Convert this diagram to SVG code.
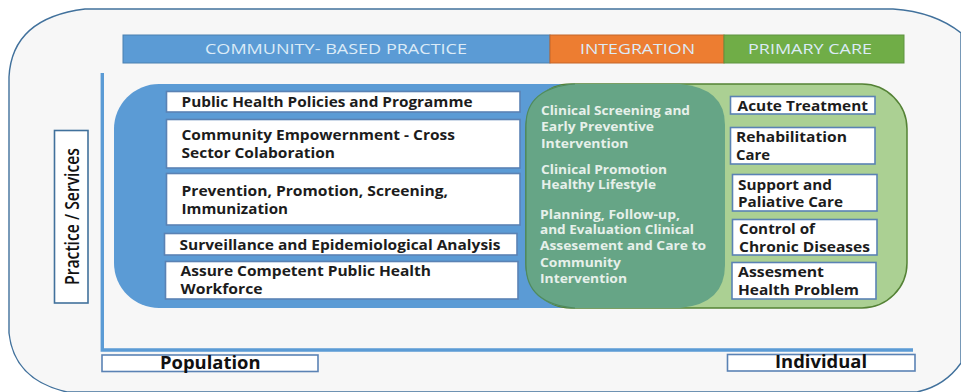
<svg xmlns="http://www.w3.org/2000/svg" width="961" height="392" viewBox="0 0 961 392">
<style>
text{font-family:"Open Sans","Liberation Sans",sans-serif;}
.b{fill:#fff;stroke:#5a82b4;stroke-width:1.6;}
.bb{fill:#fff;stroke:#41719c;stroke-width:1.6;}
.t{font-size:13.6px;font-weight:700;fill:#1c1c1c;}
.g{font-size:11.8px;font-weight:700;fill:#e6f0ea;}
.h{font-size:14.5px;fill:#dcebf7;}
.ax{font-size:17px;font-weight:700;fill:#111;}
</style>
<rect width="961" height="392" fill="#fff"/>
<g id="frame"><path d="M85 9H893Q935 12 961 33V363Q945 386 917 392H67Q14 380 9 333V77Q12 18 85 9Z" fill="#f7f7f7" stroke="#41719c" stroke-width="1.4"/></g>
<g id="header">
<g id="h-community"><rect x="123" y="35" width="427" height="28" fill="#5b9bd5" stroke="#4a80b0"/><text class="h" x="205" y="54" textLength="262" lengthAdjust="spacingAndGlyphs">COMMUNITY- BASED PRACTICE</text></g>
<g id="h-integration"><rect x="550" y="35" width="174" height="28" fill="#ed7d31" stroke="#c4662a"/><text class="h" x="580" y="54" textLength="115" lengthAdjust="spacingAndGlyphs">INTEGRATION</text></g>
<g id="h-primary"><rect x="724" y="35" width="180" height="28" fill="#70ad47" stroke="#5e9440"/><text class="h" x="748" y="54" textLength="124" lengthAdjust="spacingAndGlyphs">PRIMARY CARE</text></g>
</g>
<g id="connectors"><path d="M102.300 73V350H913" fill="none" stroke="#5b9bd5" stroke-width="3.400"/></g>
<g id="practice"><rect class="bb" x="54.500" y="130.500" width="33.500" height="172.500"/><text transform="translate(79 285) rotate(-90)" font-size="19.500" font-weight="600" fill="#111" textLength="137" lengthAdjust="spacingAndGlyphs">Practice / Services</text></g>
<g id="community-area"><rect x="114" y="84" width="500" height="224" rx="45" fill="#5b9bd5"/></g>
<g id="primary-area"><rect x="526" y="84" width="381" height="224" rx="45" fill="#abd093" stroke="#548235" stroke-width="1.500"/></g>
<g id="integration-area"><path d="M571 84H680Q725 88 725 125V265Q725 304 680 308H571Q526 304 526 265V125Q526 88 571 84Z" fill="#66a586"/><path d="M575 84Q526 88 526 125V265Q526 304 575 308" fill="none" stroke="#4f8a5f" stroke-width="1.200"/>
<g class="g"><text class="g" x="541" y="115" textLength="149" lengthAdjust="spacingAndGlyphs">Clinical Screening and</text><text class="g" x="541" y="131" textLength="113" lengthAdjust="spacingAndGlyphs">Early Preventive</text><text class="g" x="541" y="148" textLength="87.500" lengthAdjust="spacingAndGlyphs">Intervention</text><text class="g" x="541" y="174" textLength="126" lengthAdjust="spacingAndGlyphs">Clinical Promotion</text><text class="g" x="541" y="189" textLength="115" lengthAdjust="spacingAndGlyphs">Healthy Lifestyle</text><text class="g" x="540" y="219" textLength="140" lengthAdjust="spacingAndGlyphs">Planning, Follow-up,</text><text class="g" x="540" y="234" textLength="154" lengthAdjust="spacingAndGlyphs">and Evaluation Clinical</text><text class="g" x="540" y="250" textLength="166" lengthAdjust="spacingAndGlyphs">Assesement and Care to</text><text class="g" x="540" y="267" textLength="81" lengthAdjust="spacingAndGlyphs">Community</text><text class="g" x="540" y="283" textLength="87" lengthAdjust="spacingAndGlyphs">Intervention</text></g></g>
<g id="n1"><rect class="b" x="166.500" y="91.500" width="353.500" height="20.500"/><text class="t" x="181.500" y="106.500" textLength="291" lengthAdjust="spacingAndGlyphs">Public Health Policies and Programme</text></g>
<g id="n2"><rect class="b" x="166.500" y="119.500" width="353.500" height="48.500"/><text class="t" x="181.500" y="140" textLength="273.500" lengthAdjust="spacingAndGlyphs">Community Empowernment - Cross</text><text class="t" x="181.500" y="158" textLength="153.500" lengthAdjust="spacingAndGlyphs">Sector Colaboration</text></g>
<g id="n3"><rect class="b" x="166.500" y="173.500" width="353.500" height="51.500"/><text class="t" x="181.500" y="196" textLength="266.500" lengthAdjust="spacingAndGlyphs">Prevention, Promotion, Screening,</text><text class="t" x="181.500" y="214" textLength="106.500" lengthAdjust="spacingAndGlyphs">Immunization</text></g>
<g id="n4"><rect class="b" x="164.500" y="233.500" width="352.500" height="21.500"/><text class="t" x="179.500" y="249.500" textLength="321" lengthAdjust="spacingAndGlyphs">Surveillance and Epidemiological Analysis</text></g>
<g id="n5"><rect class="b" x="165.500" y="261.500" width="352.500" height="37.500"/><text class="t" x="180.500" y="276" textLength="250.500" lengthAdjust="spacingAndGlyphs">Assure Competent Public Health</text><text class="t" x="180.500" y="294" textLength="82" lengthAdjust="spacingAndGlyphs">Workforce</text></g>
<g id="r1"><rect class="b" x="730.500" y="96.500" width="144.500" height="17.500"/><text class="t" x="737.500" y="110.500" textLength="130.500" lengthAdjust="spacingAndGlyphs">Acute Treatment</text></g>
<g id="r2"><rect class="b" x="730.500" y="127.500" width="144.500" height="36.500"/><text class="t" x="736" y="141.500" textLength="111" lengthAdjust="spacingAndGlyphs">Rehabilitation</text><text class="t" x="736" y="159.500" textLength="34" lengthAdjust="spacingAndGlyphs">Care</text></g>
<g id="r3"><rect class="b" x="732.500" y="174.500" width="144.500" height="36.500"/><text class="t" x="738" y="189.500" textLength="94" lengthAdjust="spacingAndGlyphs">Support and</text><text class="t" x="738" y="207" textLength="105" lengthAdjust="spacingAndGlyphs">Paliative Care</text></g>
<g id="r4"><rect class="b" x="732.500" y="219.500" width="144.500" height="35.500"/><text class="t" x="739" y="234" textLength="76" lengthAdjust="spacingAndGlyphs">Control of</text><text class="t" x="739" y="252" textLength="131" lengthAdjust="spacingAndGlyphs">Chronic Diseases</text></g>
<g id="r5"><rect class="b" x="732" y="262.500" width="144" height="36.500"/><text class="t" x="738" y="277" textLength="86" lengthAdjust="spacingAndGlyphs">Assesment</text><text class="t" x="738" y="295" textLength="121" lengthAdjust="spacingAndGlyphs">Health Problem</text></g>
<g id="population"><rect class="b" x="102" y="355" width="216" height="16.500"/><text class="ax" x="160" y="369" textLength="100.500" lengthAdjust="spacingAndGlyphs">Population</text></g>
<g id="individual"><rect class="b" x="727.500" y="354.500" width="187.500" height="16.500"/><text class="ax" x="775" y="368" textLength="92" lengthAdjust="spacingAndGlyphs">Individual</text></g>
</svg>
